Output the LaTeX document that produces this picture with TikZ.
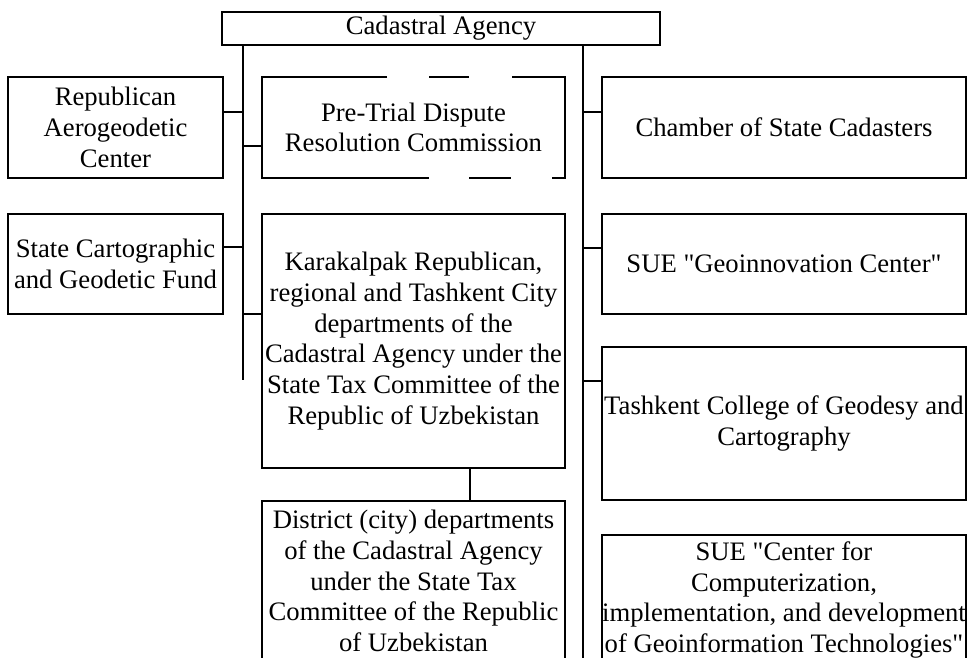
\documentclass[tikz,border=0pt]{standalone}
\usepackage{fontspec}
\setmainfont{Liberation Serif}[Ligatures=TeXOff]
\begin{document}
\begin{tikzpicture}[x=1pt,y=-1pt,
  box/.style={draw, line width=2pt, inner sep=0pt, outer sep=0pt, align=center,
    font=\fontsize{26.67}{30.67}\selectfont},
  plainbox/.style={box, draw=none},
  link/.style={line width=2pt}]
\useasboundingbox (0,0) rectangle (967,657);
\clip (0,0) rectangle (967,657);
% top
\node[box, minimum width=438pt, minimum height=33pt] (top) at (441,28.5) {Cadastral Agency};
% left column
\node[box, minimum width=215pt, minimum height=101pt] (L1) at (115.5,127.5) {Republican\\Aerogeodetic\\Center};
\node[box, minimum width=215pt, minimum height=100pt] (L2) at (115.5,264) {State Cartographic\\and Geodetic Fund};
% middle column
\node[plainbox, minimum width=303pt, minimum height=101pt] (M1) at (413.5,127.5) {Pre-Trial Dispute\\Resolution Commission};
\node[box, minimum width=303pt, minimum height=254pt] (M2) at (413.5,341) {Karakalpak Republican,\\regional and Tashkent City\\departments of the\\Cadastral Agency under the\\State Tax Committee of the\\Republic of Uzbekistan};
\node[box, minimum width=303pt, minimum height=160pt] (M3) at (413.5,581) {District (city) departments\\of the Cadastral Agency\\under the State Tax\\Committee of the Republic\\of Uzbekistan};
% right column
\node[box, minimum width=364pt, minimum height=101pt] (R1) at (784,127.5) {Chamber of State Cadasters};
\node[box, minimum width=364pt, minimum height=100pt] (R2) at (784,264) {SUE "Geoinnovation Center"};
\node[box, minimum width=364pt, minimum height=153pt] (R3) at (784,423.5) {Tashkent College of Geodesy and\\Cartography};
\node[box, minimum width=364pt, minimum height=130pt] (R4) at (784,600) {SUE "Center for\\Computerization,\\implementation, and development\\of Geoinformation Technologies"};
% dashed-looking frame of M1
\draw[link] ([xshift=125pt]M1.north west) -- (M1.north west) -- (M1.south west) -- ([xshift=167pt]M1.south west);
\draw[link] ([xshift=167pt]M1.north west) -- ([xshift=207pt]M1.north west);
\draw[link] ([xshift=250pt]M1.north west) -- (M1.north east) -- (M1.south east) -- ([xshift=-13pt]M1.south east);
\draw[link] ([xshift=207pt]M1.south west) -- ([xshift=249pt]M1.south west);
% trunks
\coordinate (lt) at (243,380);
\coordinate (rt) at (583,660);
\draw[link] (top.south -| lt) -- (lt);
\draw[link] (top.south -| rt) -- (rt);
% branch points
\path ([yshift=15.5pt]L1.east) coordinate (a1);
\path ([yshift=17pt]L2.east) coordinate (a2);
\path ([yshift=-18.5pt]M1.west) coordinate (a3);
\path ([yshift=27pt]M2.west) coordinate (a4);
\path ([yshift=15.5pt]R1.west) coordinate (b1);
\path ([yshift=16pt]R2.west) coordinate (b2);
\path ([yshift=42.5pt]R3.west) coordinate (b3);
\draw[link] (a1) -- (a1 -| lt);
\draw[link] (a2) -- (a2 -| lt);
\draw[link] (a3) -- (a3 -| lt);
\draw[link] (a4) -- (a4 -| lt);
\draw[link] (b1) -- (b1 -| rt);
\draw[link] (b2) -- (b2 -| rt);
\draw[link] (b3) -- (b3 -| rt);
\draw[link] ([xshift=56.5pt]M2.south) -- ([xshift=56.5pt]M2.south |- M3.north);
\end{tikzpicture}
\end{document}
